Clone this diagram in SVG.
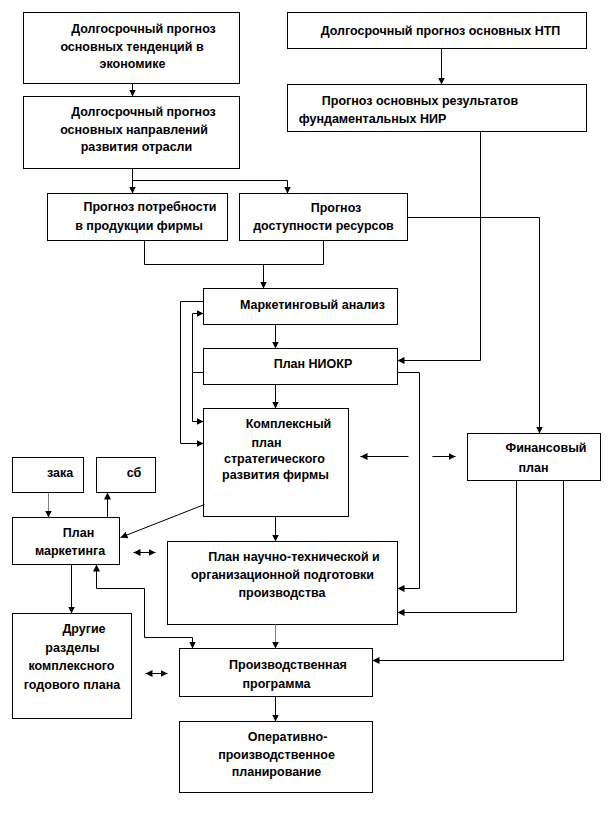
<svg xmlns="http://www.w3.org/2000/svg" width="612" height="814" viewBox="0 0 612 814">
<defs>
<marker id="ah" markerUnits="userSpaceOnUse" markerWidth="8" markerHeight="8" refX="7" refY="3.5" orient="auto-start-reverse" viewBox="0 0 8 7">
<path d="M0,0 L7,3.5 L0,7 z" fill="#000"/>
</marker>
<style>
rect{fill:#fff;stroke:#000;stroke-width:1}
text{font-family:"Liberation Sans",Arial,sans-serif;font-weight:bold;font-size:12.5px;fill:#000;text-anchor:middle}
.c path{fill:none;stroke:#000;stroke-width:1}
.c path.g{stroke:#808080}
.c path.a{marker-end:url(#ah)}
.c path.d{marker-start:url(#ah);marker-end:url(#ah)}
</style>
</defs>
<rect x="0" y="0" width="612" height="814" style="fill:#fff;stroke:none"/>
<g transform="translate(0.5,0.5)">
<g id="n1"><rect x="23" y="12" width="216" height="71"/>
<text x="143" y="32">Долгосрочный прогноз</text><text x="131.5" y="50">основных тенденций в</text><text x="132" y="67">экономике</text></g>
<g id="n2"><rect x="23" y="96" width="216" height="72"/>
<text x="143" y="115">Долгосрочный прогноз</text><text x="133.5" y="133">основных направлений</text><text x="136" y="150">развития отрасли</text></g>
<g id="n3"><rect x="287" y="12" width="299" height="36"/>
<text x="440" y="34">Долгосрочный прогноз основных НТП</text></g>
<g id="n4"><rect x="287" y="84" width="299" height="47"/>
<text x="419.5" y="104">Прогноз основных результатов</text><text x="372" y="122">фундаментальных НИР</text></g>
<g id="n5"><rect x="47" y="193" width="180" height="47"/>
<text x="149.5" y="210">Прогноз потребности</text><text x="138.5" y="229">в продукции фирмы</text></g>
<g id="n6"><rect x="239" y="193" width="168" height="47"/>
<text x="335.5" y="211">Прогноз</text><text x="323" y="229">доступности ресурсов</text></g>
<g id="n7"><rect x="203" y="288" width="194" height="36"/>
<text x="312" y="308">Маркетинговый анализ</text></g>
<g id="n8"><rect x="203" y="348" width="194" height="36"/>
<text x="312.5" y="367">План НИОКР</text></g>
<g id="n9"><rect x="203" y="408" width="145" height="108"/>
<text x="288" y="427">Комплексный</text><text x="266" y="446">план</text><text x="274" y="462">стратегического</text><text x="275" y="478">развития фирмы</text></g>
<g id="n10"><rect x="467" y="433" width="133" height="47"/>
<text x="545.5" y="451">Финансовый</text><text x="533" y="471">план</text></g>
<g id="n11"><rect x="12" y="457" width="71" height="35"/>
<text x="59.5" y="476">зака</text></g>
<g id="n12"><rect x="96" y="457" width="59" height="35"/>
<text x="133.5" y="476">сб</text></g>
<g id="n13"><rect x="12" y="517" width="107" height="47"/>
<text x="78" y="536">План</text><text x="69.5" y="554">маркетинга</text></g>
<g id="n14"><rect x="167" y="541" width="230" height="83"/>
<text x="293.5" y="560">План научно-технической и</text><text x="282" y="578">организационной подготовки</text><text x="281.5" y="596">производства</text></g>
<g id="n15"><rect x="12" y="613" width="119" height="105"/>
<text x="83.5" y="632">Другие</text><text x="72" y="651">разделы</text><text x="71" y="669">комплексного</text><text x="71.5" y="688">годового плана</text></g>
<g id="n16"><rect x="179" y="648" width="193" height="48"/>
<text x="287.5" y="668">Производственная</text><text x="276" y="687">программа</text></g>
<g id="n17"><rect x="179" y="721" width="193" height="71"/>
<text x="287" y="740">Оперативно-</text><text x="276" y="758">производственное</text><text x="276" y="775">планирование</text></g>
<g id="connectors" class="c">
<path class="a" d="M132,83 V96"/>
<path class="a" d="M441,48 V84"/>
<path d="M132,168 V180 H287"/>
<path class="a" d="M132,180 V193"/>
<path class="a" d="M287,180 V193"/>
<path d="M144,240 V264 H323 V240"/>
<path class="a" d="M263,264 V288"/>
<path class="a" d="M480,131 V360 H397"/>
<path class="a" d="M407,217 H539 V433"/>
<path class="a" d="M275,324 V348"/>
<path class="a" d="M275,384 V408"/>
<path class="a" d="M203,301 H180 V443 H203"/>
<path d="M203,372 H192"/>
<path class="a" d="M192,372 V313 H203"/>
<path class="a" d="M192,372 V421 H203"/>
<path class="a" d="M397,372 H419 V588 H397"/>
<path class="a" d="M275,516 V541"/>
<path class="a" d="M204,504 L120,537"/>
<path class="a" d="M408,456 H360"/>
<path class="a" d="M432,456 H455"/>
<path class="a" d="M516,480 V612 H397"/>
<path class="a" d="M563,480 V660 H372"/>
<path class="a g" d="M48,492 V517"/>
<path class="a" d="M107,517 V492"/>
<path class="d" d="M133,552 H155"/>
<path class="a" d="M71,564 V613"/>
<path class="d" d="M96,564 V588 H144 V637 H192 V648"/>
<path class="a g" d="M275,624 V648"/>
<path class="d" d="M145,673 H167"/>
<path class="a" d="M275,696 V721"/>
</g>
</g>
</svg>
